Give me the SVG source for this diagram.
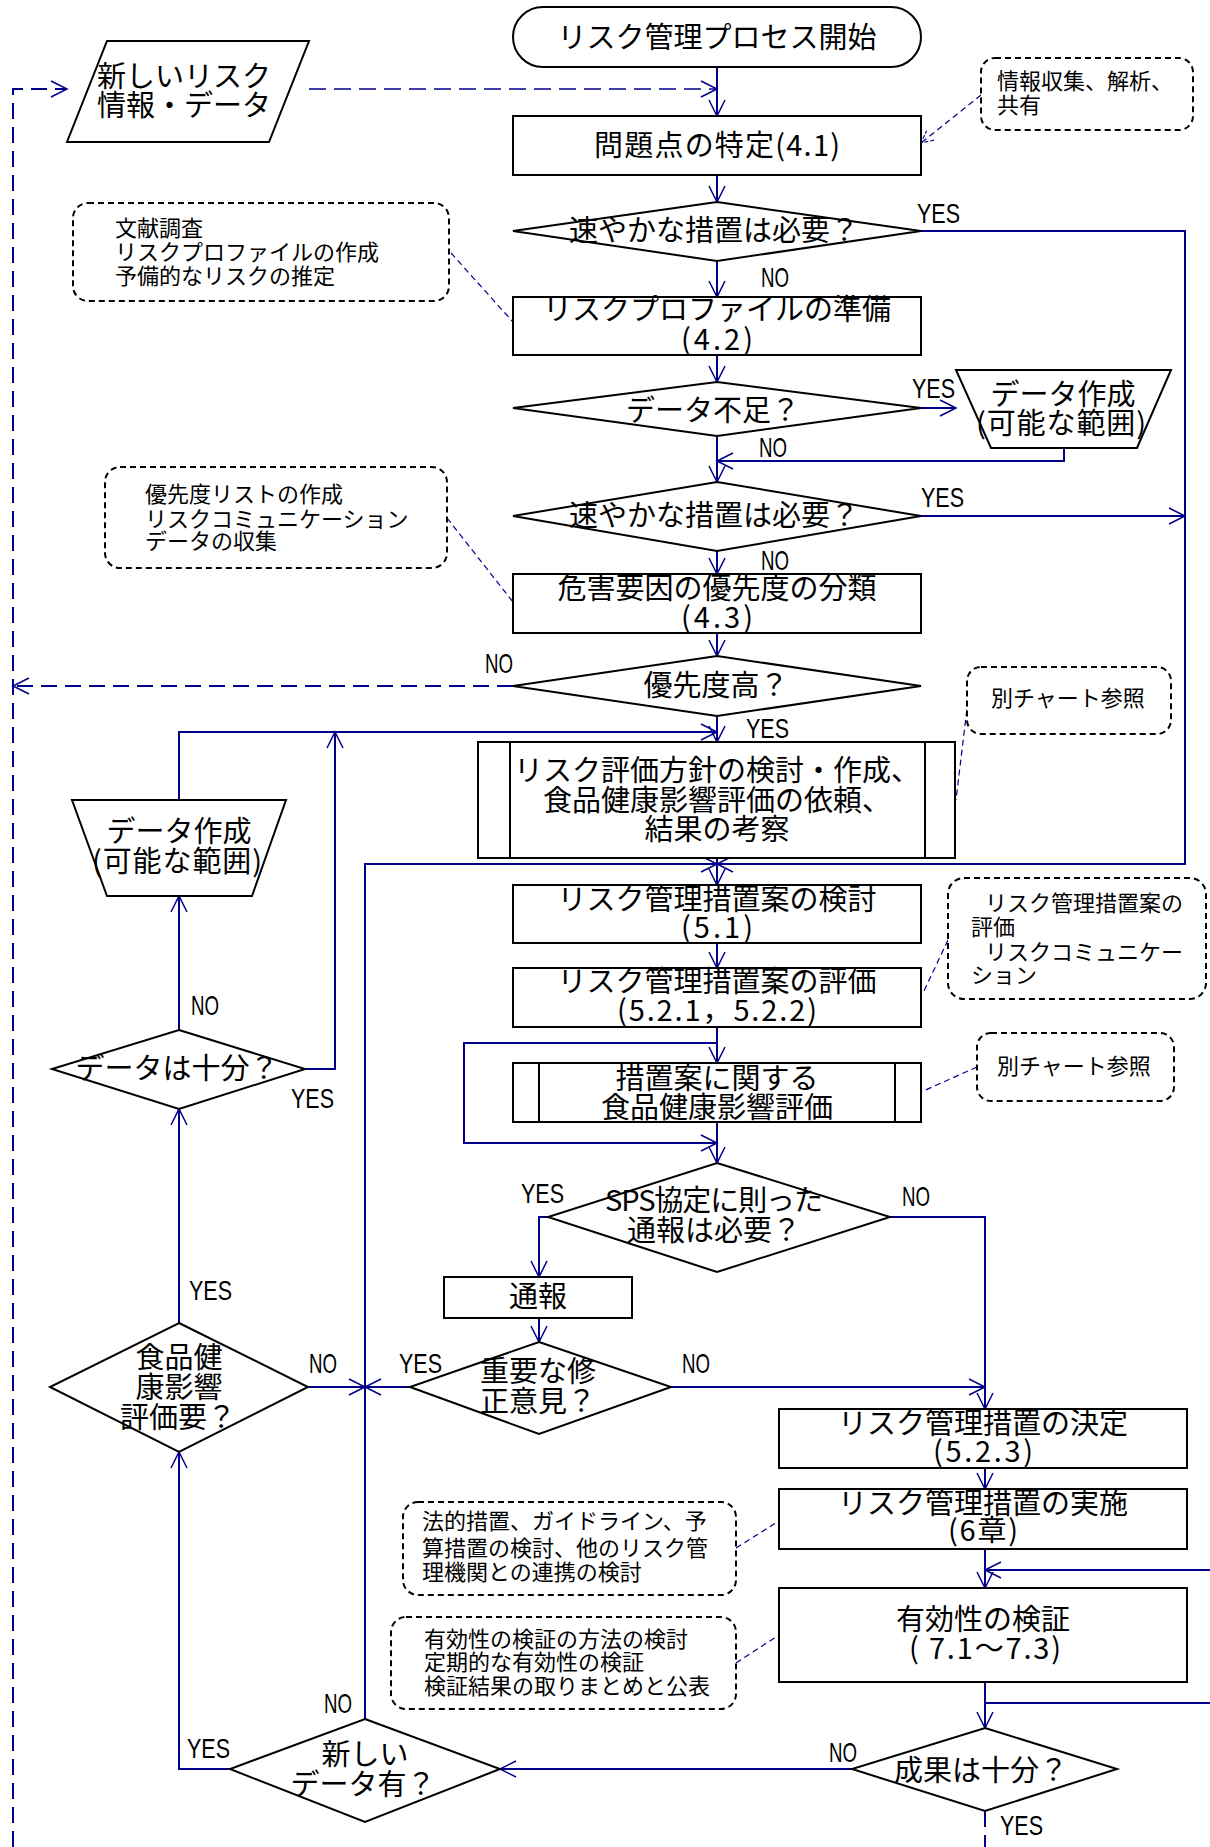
<svg xmlns="http://www.w3.org/2000/svg" width="1210" height="1847" viewBox="0 0 1210 1847">
<defs>
<style>
.n{fill:#fff;stroke:#000;stroke-width:2}
.ln{fill:none;stroke:#000;stroke-width:2}
.c{fill:none;stroke:#00008b;stroke-width:2}
.cd{fill:none;stroke:#00008b;stroke-width:2;stroke-dasharray:16 8}
.cdt{fill:none;stroke:#00008b;stroke-width:1.5;stroke-dasharray:17 8}
.lk{fill:none;stroke:#00008b;stroke-width:1.2;stroke-dasharray:6 4}
.co{fill:#fff;stroke:#000;stroke-width:2;stroke-dasharray:6 4}
.t{font-family:"Noto Sans CJK JP","Noto Sans CJK SC",sans-serif;font-size:29px;fill:#000;text-anchor:middle}
.s{font-family:"Noto Sans CJK JP","Noto Sans CJK SC",sans-serif;font-size:22px;fill:#000}
.l{font-family:"Liberation Sans",Arial,sans-serif;font-size:28px;fill:#000}
</style>
<marker id="a" viewBox="-18 -10 20 20" refX="0" refY="0" markerWidth="20" markerHeight="20" markerUnits="userSpaceOnUse" orient="auto"><path d="M-16,-8 L0,0 L-16,8" fill="none" stroke="#00008b" stroke-width="1.5"/></marker>
<marker id="b" viewBox="-14 -8 16 16" refX="0" refY="0" markerWidth="16" markerHeight="16" markerUnits="userSpaceOnUse" orient="auto"><path d="M-12,-6 L0,0 L-12,6" fill="none" stroke="#00008b" stroke-width="1.2" stroke-dasharray="4 2"/></marker>
</defs>
<rect x="0" y="0" width="1210" height="1847" fill="#fff"/>

<g id="connectors">
<path class="c" marker-end="url(#a)" d="M717,67 V116"/>
<path class="c" marker-end="url(#a)" d="M717,175 V202"/>
<path class="c" marker-end="url(#a)" d="M717,261 V297"/>
<path class="c" marker-end="url(#a)" d="M921,231 H1185 V864 H717"/>
<path class="c" marker-end="url(#a)" d="M717,355 V382"/>
<path class="c" marker-end="url(#a)" d="M921,408 H956"/>
<path class="c" marker-end="url(#a)" d="M1064,448 V461 H717"/>
<path class="c" marker-end="url(#a)" d="M717,436 V482"/>
<path class="c" marker-end="url(#a)" d="M921,516 H1185"/>
<path class="c" marker-end="url(#a)" d="M717,551 V574"/>
<path class="c" marker-end="url(#a)" d="M717,633 V656"/>
<path class="cd" marker-end="url(#a)" d="M513,686 H13"/>
<path class="c" marker-end="url(#a)" d="M717,716 V742"/>
<path class="c" marker-end="url(#a)" d="M179,800 V732 H717"/>
<path class="c" marker-end="url(#a)" d="M305,1069 H335 V732"/>
<path class="c" marker-end="url(#a)" d="M179,1030 V896"/>
<path class="c" marker-end="url(#a)" d="M179,1323 V1109"/>
<path class="c" marker-end="url(#a)" d="M230,1769 H179 V1452"/>
<path class="c" marker-end="url(#a)" d="M365,1719 V864 H717"/>
<path class="c" marker-end="url(#a)" d="M308,1387 H365"/>
<path class="c" marker-end="url(#a)" d="M410,1387 H365"/>
<path class="c" marker-end="url(#a)" d="M717,858 V885"/>
<path class="c" marker-end="url(#a)" d="M717,943 V968"/>
<path class="c" marker-end="url(#a)" d="M717,1027 V1063"/>
<path class="c" marker-end="url(#a)" d="M717,1043 H464 V1143 H717"/>
<path class="c" marker-end="url(#a)" d="M717,1122 V1163"/>
<path class="c" marker-end="url(#a)" d="M548,1217 H539 V1277"/>
<path class="c" marker-end="url(#a)" d="M539,1318 V1342"/>
<path class="c" marker-end="url(#a)" d="M671,1387 H985"/>
<path class="c" marker-end="url(#a)" d="M890,1217 H985 V1409"/>
<path class="c" marker-end="url(#a)" d="M985,1468 V1489"/>
<path class="c" marker-end="url(#a)" d="M985,1549 V1588"/>
<path class="c" marker-end="url(#a)" d="M1210,1570 H985"/>
<path class="c" marker-end="url(#a)" d="M985,1682 V1728"/>
<path class="c" d="M985,1703 H1210"/>
<path class="c" marker-end="url(#a)" d="M852,1769 H500"/>
<path class="cd" d="M985,1811 V1847"/>
<path class="cd" marker-end="url(#a)" d="M13,1847 V89 H67"/>
<path class="cdt" marker-end="url(#a)" d="M309,89 H717"/>
<path class="lk" marker-end="url(#b)" d="M981,95 L921,143"/>
<path class="lk" d="M451,253 L513,322"/>
<path class="lk" d="M447,518 L513,602"/>
<path class="lk" d="M968,700 L956,800"/>
<path class="lk" d="M948,940 L923,993"/>
<path class="lk" d="M977,1067 L921,1092"/>
<path class="lk" d="M736,1548 L779,1521"/>
<path class="lk" d="M736,1663 L779,1635"/>
</g>

<g id="start">
<rect class="n" x="513" y="7" width="408" height="60" rx="30"/>
<text class="t" x="717" y="48">リスク管理プロセス開始</text>
</g>
<g id="new-risk-info">
<polygon class="n" points="107,41 309,41 269,142 67,142"/>
<text class="t"><tspan x="184" y="87">新しいリスク</tspan><tspan x="184" y="116">情報・データ</tspan></text>
</g>
<g id="identify">
<rect class="n" x="513" y="116" width="408" height="59"/>
<text class="t" x="717" y="156" textLength="246" lengthAdjust="spacing">問題点の特定(4.1)</text>
</g>
<g id="note-info">
<rect class="co" x="981" y="58" width="212" height="72" rx="14"/>
<text class="s"><tspan x="997" y="89">情報収集、解析、</tspan><tspan x="997" y="113">共有</tspan></text>
</g>
<g id="urgent1">
<polygon class="n" points="717,202 921,231 717,261 513,231"/>
<text class="t" x="714" y="241">速やかな措置は必要？</text>
</g>
<g id="note-profile">
<rect class="co" x="73" y="203" width="376" height="98" rx="15"/>
<text class="s"><tspan x="115" y="236">文献調査</tspan><tspan x="115" y="260">リスクプロファイルの作成</tspan><tspan x="115" y="284">予備的なリスクの推定</tspan></text>
</g>
<g id="profile">
<rect class="n" x="513" y="297" width="408" height="58"/>
<text class="t"><tspan x="717" y="320">リスクプロファイルの準備</tspan><tspan x="717" y="350" textLength="72" lengthAdjust="spacing">(4.2)</tspan></text>
</g>
<g id="lack-data">
<polygon class="n" points="717,382 921,408 717,436 513,408"/>
<text class="t" x="713" y="421">データ不足？</text>
</g>
<g id="make-data-right">
<polygon class="n" points="956,370 1171,370 1137,448 991,448"/>
<text class="t"><tspan x="1063" y="405">データ作成</tspan><tspan x="1061" y="434" textLength="170" lengthAdjust="spacing">(可能な範囲)</tspan></text>
</g>
<g id="urgent2">
<polygon class="n" points="717,482 921,516 717,551 513,516"/>
<text class="t" x="714" y="526">速やかな措置は必要？</text>
</g>
<g id="note-priority">
<rect class="co" x="105" y="467" width="342" height="101" rx="15"/>
<text class="s"><tspan x="145" y="502">優先度リストの作成</tspan><tspan x="145" y="527">リスクコミュニケーション</tspan><tspan x="145" y="549">データの収集</tspan></text>
</g>
<g id="classify">
<rect class="n" x="513" y="574" width="408" height="59"/>
<text class="t"><tspan x="717" y="599">危害要因の優先度の分類</tspan><tspan x="717" y="628" textLength="72" lengthAdjust="spacing">(4.3)</tspan></text>
</g>
<g id="high-priority">
<polygon class="n" points="717,656 921,686 717,716 513,686"/>
<text class="t" x="716" y="696">優先度高？</text>
</g>
<g id="assessment-policy">
<rect class="n" x="478" y="742" width="477" height="116"/>
<line class="ln" x1="510" y1="742" x2="510" y2="858"/>
<line class="ln" x1="925" y1="742" x2="925" y2="858"/>
<text class="t"><tspan x="717" y="781">リスク評価方針の検討・作成、</tspan><tspan x="717" y="811">食品健康影響評価の依頼、</tspan><tspan x="717" y="840">結果の考察</tspan></text>
</g>
<g id="note-chart1">
<rect class="co" x="967" y="667" width="204" height="67" rx="14"/>
<text class="s" x="991" y="706">別チャート参照</text>
</g>
<g id="make-data-left">
<polygon class="n" points="72,800 286,800 252,896 107,896"/>
<text class="t"><tspan x="179" y="842">データ作成</tspan><tspan x="177" y="872" textLength="170" lengthAdjust="spacing">(可能な範囲)</tspan></text>
</g>
<g id="measures-study">
<rect class="n" x="513" y="885" width="408" height="58"/>
<text class="t"><tspan x="717" y="910">リスク管理措置案の検討</tspan><tspan x="717" y="938" textLength="72" lengthAdjust="spacing">(5.1)</tspan></text>
</g>
<g id="measures-eval">
<rect class="n" x="513" y="968" width="408" height="59"/>
<text class="t"><tspan x="717" y="992">リスク管理措置案の評価</tspan><tspan x="717" y="1021" textLength="200" lengthAdjust="spacing">(5.2.1，5.2.2)</tspan></text>
</g>
<g id="note-eval">
<rect class="co" x="948" y="878" width="258" height="121" rx="16"/>
<text class="s"><tspan x="985" y="911">リスク管理措置案の</tspan><tspan x="971" y="935">評価</tspan><tspan x="985" y="960">リスクコミュニケー</tspan><tspan x="971" y="983">ション</tspan></text>
</g>
<g id="data-sufficient">
<polygon class="n" points="179,1030 305,1069 179,1109 52,1069"/>
<text class="t" x="177" y="1079">データは十分？</text>
</g>
<g id="measure-assessment">
<rect class="n" x="513" y="1063" width="408" height="59"/>
<line class="ln" x1="539" y1="1063" x2="539" y2="1122"/>
<line class="ln" x1="895" y1="1063" x2="895" y2="1122"/>
<text class="t"><tspan x="717" y="1089">措置案に関する</tspan><tspan x="717" y="1118">食品健康影響評価</tspan></text>
</g>
<g id="note-chart2">
<rect class="co" x="977" y="1033" width="197" height="68" rx="14"/>
<text class="s" x="997" y="1074">別チャート参照</text>
</g>
<g id="sps">
<polygon class="n" points="717,1163 890,1217 717,1272 548,1217"/>
<text class="t"><tspan x="714" y="1211" textLength="218" lengthAdjust="spacing">SPS協定に則った</tspan><tspan x="714" y="1241">通報は必要？</tspan></text>
</g>
<g id="notify">
<rect class="n" x="444" y="1277" width="188" height="41"/>
<text class="t" x="538" y="1307">通報</text>
</g>
<g id="major-comment">
<polygon class="n" points="539,1342 671,1387 539,1434 410,1387"/>
<text class="t"><tspan x="538" y="1382">重要な修</tspan><tspan x="538" y="1412">正意見？</tspan></text>
</g>
<g id="need-assessment">
<polygon class="n" points="179,1323 308,1387 179,1452 50,1387"/>
<text class="t"><tspan x="179" y="1368">食品健</tspan><tspan x="179" y="1398">康影響</tspan><tspan x="178" y="1428">評価要？</tspan></text>
</g>
<g id="decide">
<rect class="n" x="779" y="1409" width="408" height="59"/>
<text class="t"><tspan x="983" y="1434">リスク管理措置の決定</tspan><tspan x="983" y="1462" textLength="100" lengthAdjust="spacing">(5.2.3)</tspan></text>
</g>
<g id="implement">
<rect class="n" x="779" y="1489" width="408" height="60"/>
<text class="t"><tspan x="983" y="1514">リスク管理措置の実施</tspan><tspan x="983" y="1541" textLength="70" lengthAdjust="spacing">(6章)</tspan></text>
</g>
<g id="note-legal">
<rect class="co" x="403" y="1502" width="333" height="93" rx="15"/>
<text class="s"><tspan x="422" y="1529">法的措置、ガイドライン、予</tspan><tspan x="422" y="1556">算措置の検討、他のリスク管</tspan><tspan x="422" y="1580">理機関との連携の検討</tspan></text>
</g>
<g id="verify">
<rect class="n" x="779" y="1588" width="408" height="94"/>
<text class="t"><tspan x="983" y="1630">有効性の検証</tspan><tspan x="985" y="1659" textLength="152" lengthAdjust="spacing">( 7.1～7.3)</tspan></text>
</g>
<g id="note-verify">
<rect class="co" x="391" y="1617" width="345" height="92" rx="15"/>
<text class="s"><tspan x="424" y="1647">有効性の検証の方法の検討</tspan><tspan x="424" y="1670">定期的な有効性の検証</tspan><tspan x="424" y="1694">検証結果の取りまとめと公表</tspan></text>
</g>
<g id="result-sufficient">
<polygon class="n" points="985,1728 1117,1769 985,1811 852,1769"/>
<text class="t" x="981" y="1781">成果は十分？</text>
</g>
<g id="new-data">
<polygon class="n" points="365,1719 500,1769 365,1822 230,1769"/>
<text class="t"><tspan x="365" y="1765">新しい</tspan><tspan x="363" y="1795">データ有？</tspan></text>
</g>

<g id="labels">
<text class="l" x="917" y="223" textLength="43" lengthAdjust="spacingAndGlyphs">YES</text>
<text class="l" x="761" y="287" textLength="28" lengthAdjust="spacingAndGlyphs">NO</text>
<text class="l" x="912" y="398" textLength="43" lengthAdjust="spacingAndGlyphs">YES</text>
<text class="l" x="759" y="457" textLength="28" lengthAdjust="spacingAndGlyphs">NO</text>
<text class="l" x="921" y="507" textLength="43" lengthAdjust="spacingAndGlyphs">YES</text>
<text class="l" x="761" y="570" textLength="28" lengthAdjust="spacingAndGlyphs">NO</text>
<text class="l" x="485" y="673" textLength="28" lengthAdjust="spacingAndGlyphs">NO</text>
<text class="l" x="746" y="738" textLength="43" lengthAdjust="spacingAndGlyphs">YES</text>
<text class="l" x="191" y="1015" textLength="28" lengthAdjust="spacingAndGlyphs">NO</text>
<text class="l" x="291" y="1108" textLength="43" lengthAdjust="spacingAndGlyphs">YES</text>
<text class="l" x="521" y="1203" textLength="43" lengthAdjust="spacingAndGlyphs">YES</text>
<text class="l" x="902" y="1206" textLength="28" lengthAdjust="spacingAndGlyphs">NO</text>
<text class="l" x="189" y="1300" textLength="43" lengthAdjust="spacingAndGlyphs">YES</text>
<text class="l" x="309" y="1373" textLength="28" lengthAdjust="spacingAndGlyphs">NO</text>
<text class="l" x="399" y="1373" textLength="43" lengthAdjust="spacingAndGlyphs">YES</text>
<text class="l" x="682" y="1373" textLength="28" lengthAdjust="spacingAndGlyphs">NO</text>
<text class="l" x="324" y="1713" textLength="28" lengthAdjust="spacingAndGlyphs">NO</text>
<text class="l" x="187" y="1758" textLength="43" lengthAdjust="spacingAndGlyphs">YES</text>
<text class="l" x="829" y="1762" textLength="28" lengthAdjust="spacingAndGlyphs">NO</text>
<text class="l" x="1000" y="1835" textLength="43" lengthAdjust="spacingAndGlyphs">YES</text>
</g>
</svg>
